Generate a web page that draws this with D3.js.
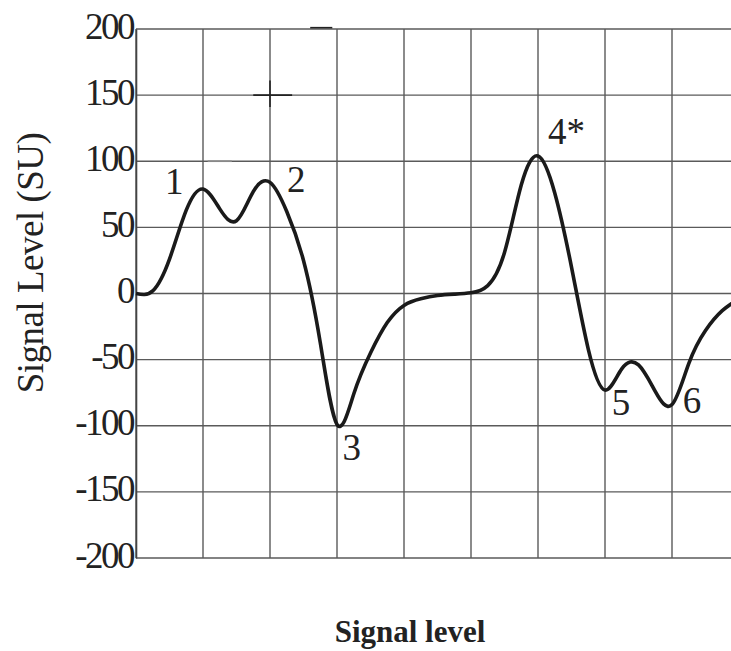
<!DOCTYPE html>
<html>
<head>
<meta charset="utf-8">
<script src="https://cdn.jsdelivr.net/npm/d3@7"></script>
<style>
  body { margin: 0; background: #fff; }
  svg { display: block; }
  .tick-label { font-family: "Liberation Serif", "Times New Roman", serif; font-size: 37px; letter-spacing: -2.5px; fill: #222; }
  .peak-label { font-family: "Liberation Serif", "Times New Roman", serif; font-size: 37px; fill: #222; }
  .y-title { font-family: "Liberation Serif", "Times New Roman", serif; font-size: 37px; letter-spacing: -0.5px; fill: #222; }
  .x-title { font-family: "Liberation Serif", serif; font-size: 31px; font-weight: bold; fill: #222; }
</style>
</head>
<body>
<div id="chart"></div>
<script>
// signal trace, every quarter grid unit (y in SU)
const traceX = [0, 0.25, 0.5, 0.75, 1, 1.25, 1.5, 1.75, 2, 2.25, 2.5, 2.75, 3, 3.25, 3.5, 3.75, 4, 4.25, 4.5, 4.75, 5, 5.25, 5.5, 5.75, 6, 6.25, 6.5, 6.75, 7, 7.25, 7.5, 7.75, 8, 8.25, 8.5, 8.75, 9];
const traceY = [0, 2, 26, 63, 79, 64, 55, 77, 84, 62, 25, -37, -99, -76, -45, -22, -9, -4, -1.5, -0.5, 0.5, 6, 31, 82, 104, 76, 20, -42, -73, -57, -54, -74, -84, -53, -28, -13, -4];

const yTicks = [200, 150, 100, 50, 0, -50, -100, -150, -200];
const xGrid = [0, 1, 2, 3, 4, 5, 6, 7, 8, 9];

// peak labels
const peakText = ["1", "2", "3", "4*", "5", "6"];
const peakX = [0.57, 2.39, 3.22, 6.15, 7.24, 8.30];
const peakY = [75, 76.5, -126, 113, -92, -90];

// small marks printed on the grid
const markX1 = [1.07, 1.75, 2.0, 2.6];
const markX2 = [1.43, 2.33, 2.0, 2.93];
const markY1 = [100, 150, 161, 201];
const markY2 = [100, 150, 141, 201];

const W = 731, H = 651;
const margin = { top: 29, left: 136 };
const plotW = 603, plotH = 529;

const svg = d3.select("#chart").append("svg")
  .attr("width", W).attr("height", H);

const g = svg.append("g")
  .attr("transform", `translate(${margin.left},${margin.top})`);

const x = d3.scaleLinear().domain([0, 9]).range([0, plotW]);
const y = d3.scaleLinear().domain([-200, 200]).range([plotH, 0]);

// horizontal grid
g.append("g").selectAll("line").data(yTicks).join("line")
  .attr("x1", 0).attr("x2", plotW)
  .attr("y1", d => y(d)).attr("y2", d => y(d))
  .attr("stroke", "#5a5a5a").attr("stroke-width", 1.4);

// vertical grid
g.append("g").selectAll("line").data(xGrid).join("line")
  .attr("x1", d => x(d)).attr("x2", d => x(d))
  .attr("y1", 0).attr("y2", plotH)
  .attr("stroke", "#5a5a5a").attr("stroke-width", 1.4);

// y axis line + labels (plain hyphen for negatives)
const yAxis = g.append("g")
  .call(d3.axisLeft(y).tickValues(yTicks).tickFormat(d => String(d)).tickSize(0).tickPadding(4));
yAxis.select(".domain").attr("stroke", "#444").attr("stroke-width", 1.6);
yAxis.selectAll("text")
  .attr("class", "tick-label")
  .attr("font-size", null).attr("font-family", null)
  .attr("dy", "9px")
  .attr("x", -3);

// printed marks
g.append("g").selectAll("line").data(markX1).join("line")
  .attr("x1", (d, i) => x(markX1[i])).attr("x2", (d, i) => x(markX2[i]))
  .attr("y1", (d, i) => y(markY1[i])).attr("y2", (d, i) => y(markY2[i]))
  .attr("stroke", (d, i) => i === 0 ? "#888" : "#222")
  .attr("stroke-width", 1.6);

// trace
const points = traceX.map((d, i) => [d, traceY[i]]);
const line = d3.line()
  .x(d => x(d[0]))
  .y(d => y(d[1]))
  .curve(d3.curveNatural);

g.append("path")
  .datum(points)
  .attr("fill", "none")
  .attr("stroke", "#1a1a1a")
  .attr("stroke-width", 3.6)
  .attr("stroke-linejoin", "round")
  .attr("d", line);

// peak labels
g.append("g").selectAll("text").data(peakText).join("text")
  .attr("class", "peak-label")
  .attr("x", (d, i) => x(peakX[i]))
  .attr("y", (d, i) => y(peakY[i]))
  .attr("text-anchor", (d, i) => d === "4*" ? "start" : "middle")
  .text(d => d);

// axis titles
svg.append("text")
  .attr("class", "y-title")
  .attr("transform", `translate(43,${263}) rotate(-90)`)
  .attr("text-anchor", "middle")
  .text("Signal Level (SU)");

svg.append("text")
  .attr("class", "x-title")
  .attr("x", 410).attr("y", 642)
  .attr("text-anchor", "middle")
  .text("Signal level");
</script>
</body>
</html>
